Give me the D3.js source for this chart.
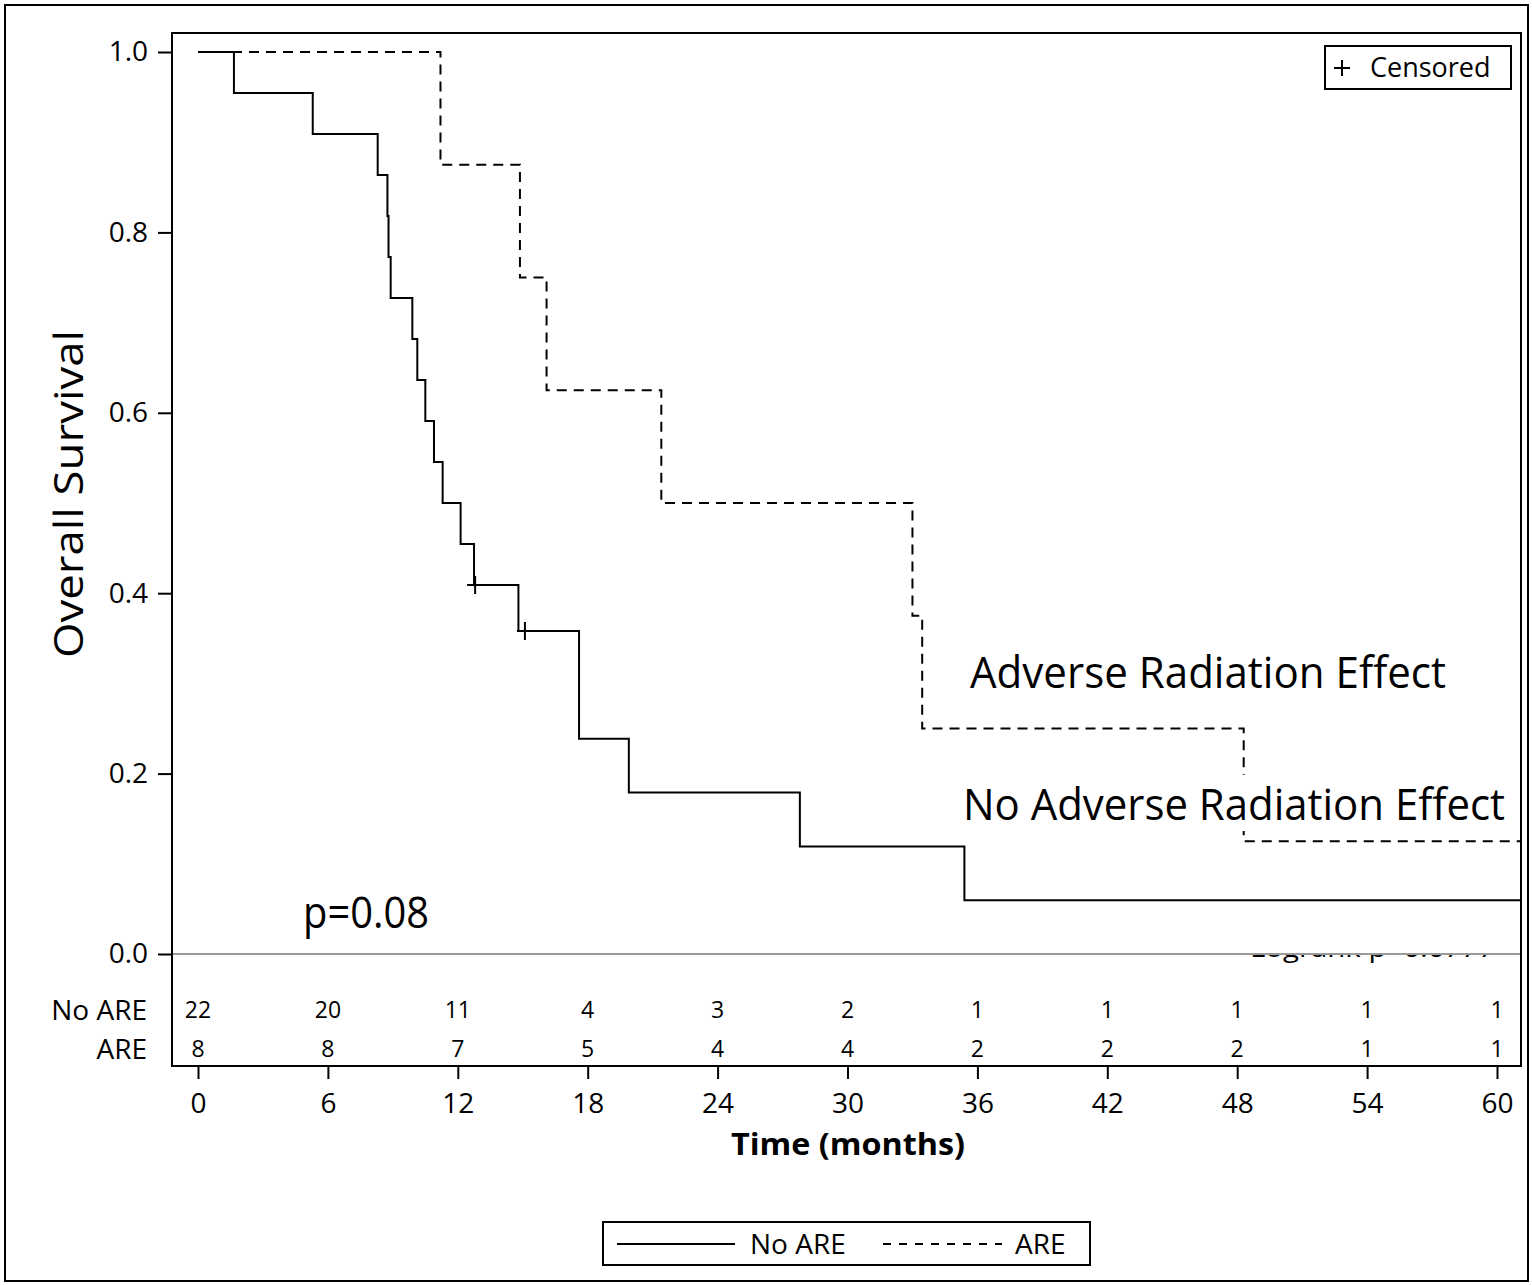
<!DOCTYPE html>
<html>
<head>
<meta charset="utf-8">
<script src="https://cdn.jsdelivr.net/npm/d3@7"></script>
<style>
  html, body { margin: 0; padding: 0; background: #fff; }
  svg { display: block; }
  text { font-family: "Open Sans", "Noto Sans", sans-serif; fill: #000; }
</style>
</head>
<body>
<svg id="chart" width="1532" height="1285"></svg>
<script>
// Kaplan–Meier overall survival, No ARE vs ARE
const timeTicks = [0, 6, 12, 18, 24, 30, 36, 42, 48, 54, 60];
const survTicks = [0.0, 0.2, 0.4, 0.6, 0.8, 1.0];

// No ARE (n = 22): step start times and survival after each step
const noAreTimes = [0, 1.66, 5.3, 8.3, 8.75, 8.8, 8.9, 9.9, 10.13, 10.5, 10.9, 11.3, 12.13, 12.75, 14.8, 17.6, 19.9, 27.8, 35.4];
const noAreSurv  = [1.0, 0.9545, 0.9091, 0.8636, 0.8182, 0.7727, 0.7273, 0.6818, 0.6364, 0.5909, 0.5455, 0.5, 0.4545, 0.4091, 0.3580, 0.2386, 0.1790, 0.1193, 0.0597];
const noAreCensorTimes = [12.8, 15.1];
const noAreCensorSurv  = [0.4091, 0.3580];

// ARE (n = 8)
const areTimes = [0, 11.2, 14.87, 16.1, 21.4, 33.0, 33.45, 48.3];
const areSurv  = [1.0, 0.875, 0.75, 0.625, 0.5, 0.375, 0.25, 0.125];

// Number at risk
const riskGroups = ["No ARE", "ARE"];
const noAreRisk = [22, 20, 11, 4, 3, 2, 1, 1, 1, 1, 1];
const areRisk   = [8, 8, 7, 5, 4, 4, 2, 2, 2, 1, 1];

const svg = d3.select("#chart");

// outer border
svg.append("rect").attr("x", 5).attr("y", 5).attr("width", 1523).attr("height", 1276)
  .attr("fill", "none").attr("stroke", "#000").attr("stroke-width", 2);

const frame = { left: 172, right: 1521, top: 33, bottom: 1066 };

const x = d3.scaleLinear().domain([0, 60]).range([198, 1497]);
const y = d3.scaleLinear().domain([0, 1]).range([954, 52]);
const tEnd = x.invert(frame.right);

// partially hidden test statistic beneath the reference line
const clip = svg.append("defs").append("clipPath").attr("id", "belowZero");
clip.append("rect").attr("x", frame.left).attr("y", y(0)).attr("width", frame.right - frame.left).attr("height", 20);
svg.append("text")
  .attr("clip-path", "url(#belowZero)")
  .attr("x", 1250).attr("y", 957)
  .attr("font-size", 25)
  .attr("textLength", 245).attr("lengthAdjust", "spacingAndGlyphs")
  .text("Logrank p=0.0777");

// zero reference line
svg.append("line")
  .attr("x1", frame.left).attr("x2", frame.right)
  .attr("y1", y(0)).attr("y2", y(0))
  .attr("stroke", "#9a9a9a").attr("stroke-width", 2);

// survival curves
const line = d3.line().x(d => x(d[0])).y(d => y(d[1])).curve(d3.curveStepAfter);
const noArePts = noAreTimes.map((t, i) => [t, noAreSurv[i]]);
noArePts.push([tEnd, noAreSurv[noAreSurv.length - 1]]);
const arePts = areTimes.map((t, i) => [t, areSurv[i]]);
arePts.push([tEnd, areSurv[areSurv.length - 1]]);

svg.append("path").datum(arePts).attr("d", line)
  .attr("fill", "none").attr("stroke", "#000").attr("stroke-width", 2)
  .attr("stroke-dasharray", "10,7");
svg.append("path").datum(noArePts).attr("d", line)
  .attr("fill", "none").attr("stroke", "#000").attr("stroke-width", 2);

// censor marks
svg.selectAll(".censor").data(noAreCensorTimes.map((t, i) => [t, noAreCensorSurv[i]]))
  .join("path").attr("class", "censor")
  .attr("d", d => `M${x(d[0]) - 8},${y(d[1])}h16M${x(d[0])},${y(d[1]) - 9}v18`)
  .attr("stroke", "#000").attr("stroke-width", 2);

// axis frame
svg.append("rect")
  .attr("x", frame.left).attr("y", frame.top)
  .attr("width", frame.right - frame.left).attr("height", frame.bottom - frame.top)
  .attr("fill", "none").attr("stroke", "#000").attr("stroke-width", 2);

// y axis
const yAxis = svg.append("g").attr("transform", `translate(${frame.left},0)`)
  .call(d3.axisLeft(y).tickValues(survTicks).tickFormat(d3.format(".1f")).tickSize(14).tickPadding(10));
yAxis.select(".domain").remove();
yAxis.selectAll("line").attr("stroke-width", 2);
yAxis.selectAll("text").attr("font-size", 28).attr("font-family", "'Open Sans', sans-serif").attr("fill", "#000");

// x axis
const xAxis = svg.append("g").attr("transform", `translate(0,${frame.bottom})`)
  .call(d3.axisBottom(x).tickValues(timeTicks).tickFormat(d3.format("d")).tickSize(13).tickPadding(14));
xAxis.select(".domain").remove();
xAxis.selectAll("line").attr("stroke-width", 2);
xAxis.selectAll("text").attr("font-size", 28).attr("font-family", "'Open Sans', sans-serif").attr("fill", "#000");

// axis titles
svg.append("text")
  .attr("transform", "translate(83,494) rotate(-90)")
  .attr("text-anchor", "middle")
  .attr("font-size", 40)
  .attr("textLength", 328).attr("lengthAdjust", "spacingAndGlyphs")
  .text("Overall Survival");

svg.append("text")
  .attr("x", 848).attr("y", 1155)
  .attr("text-anchor", "middle")
  .attr("font-size", 30).attr("font-weight", "bold")
  .attr("textLength", 234).attr("lengthAdjust", "spacingAndGlyphs")
  .text("Time (months)");

// number at risk table
const riskRows = [noAreRisk, areRisk];
const rowY = [1010, 1049];
riskGroups.forEach((g, r) => {
  svg.append("text")
    .attr("x", 147).attr("y", rowY[r]).attr("dy", "0.35em")
    .attr("text-anchor", "end").attr("font-size", 28)
    .text(g);
  svg.selectAll(".risk" + r).data(riskRows[r]).join("text")
    .attr("class", "risk" + r)
    .attr("x", (d, i) => x(timeTicks[i])).attr("y", rowY[r]).attr("dy", "0.35em")
    .attr("text-anchor", "middle").attr("font-size", 23)
    .text(d => d);
});

// curve annotations, each on a white backing box
function annotate(label, ax, ay, width) {
  const g = svg.append("g");
  const bg = g.append("rect").attr("fill", "#fff");
  const t = g.append("text").attr("x", ax).attr("y", ay).attr("font-size", 44)
    .attr("textLength", width).attr("lengthAdjust", "spacingAndGlyphs")
    .text(label);
  const b = t.node().getBBox();
  bg.attr("x", b.x - 6).attr("y", b.y + 2).attr("width", b.width + 12).attr("height", b.height - 4);
}
annotate("Adverse Radiation Effect", 970, 688, 476);
annotate("No Adverse Radiation Effect", 963, 820, 542);
annotate("p=0.08", 303, 928, 126);

// censored inset legend
svg.append("rect").attr("x", 1325).attr("y", 46).attr("width", 186).attr("height", 43)
  .attr("fill", "#fff").attr("stroke", "#000").attr("stroke-width", 2);
svg.append("path").attr("d", "M1334,68h16M1342,60v16").attr("stroke", "#000").attr("stroke-width", 2);
svg.append("text").attr("x", 1370).attr("y", 68).attr("dy", "0.35em").attr("font-size", 27)
  .text("Censored");

// group legend
svg.append("rect").attr("x", 603).attr("y", 1222).attr("width", 487).attr("height", 43)
  .attr("fill", "#fff").attr("stroke", "#000").attr("stroke-width", 2);
svg.append("line").attr("x1", 617).attr("x2", 735).attr("y1", 1244).attr("y2", 1244)
  .attr("stroke", "#000").attr("stroke-width", 2);
svg.append("text").attr("x", 750).attr("y", 1244).attr("dy", "0.35em").attr("font-size", 28)
  .text(riskGroups[0]);
svg.append("line").attr("x1", 883).attr("x2", 1002).attr("y1", 1244).attr("y2", 1244)
  .attr("stroke", "#000").attr("stroke-width", 2).attr("stroke-dasharray", "8,8");
svg.append("text").attr("x", 1015).attr("y", 1244).attr("dy", "0.35em").attr("font-size", 28)
  .text(riskGroups[1]);
</script>
</body>
</html>
